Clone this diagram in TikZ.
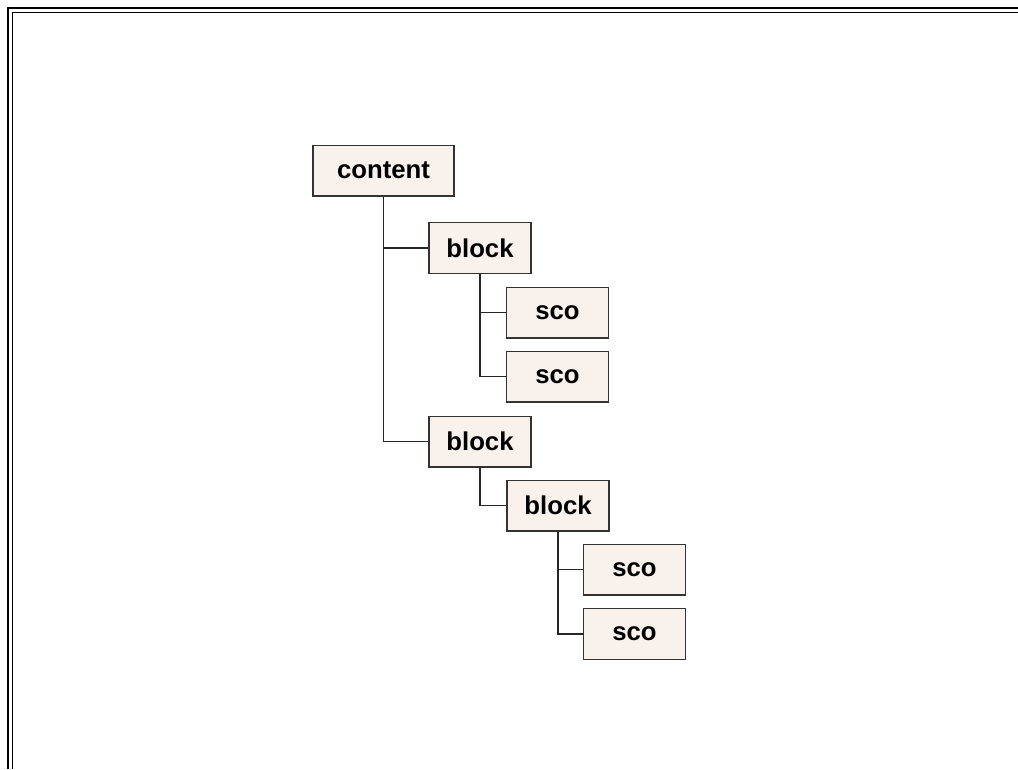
\documentclass[tikz,border=0pt]{standalone}
\usepackage{fontspec}
\setmainfont{Liberation Sans}
\usepackage{tikz}
\usepackage{xcolor}
\usetikzlibrary{positioning}

\definecolor{boxfill}{HTML}{F8F1EC}
\definecolor{boxline}{HTML}{333333}

\begin{document}
\begin{tikzpicture}[x=0.75pt,y=-0.75pt,
		item/.style={draw=boxline,fill=boxfill,line width=1pt,inner sep=0pt,
			minimum width=76.5pt,minimum height=38pt,
			font=\fontsize{19.3}{22}\selectfont\bfseries},
		link/.style={draw=black!85,line width=0.9pt}]
				%\draw[help lines] (0,0) grid (1018,769);
				\useasboundingbox (0,0) rectangle (1018,769);
				\draw[line width=2.2pt] (8,769) -- (8,8) -- (1018,8);
				\draw[line width=1.2pt] (12.5,769) -- (12.5,12.5) -- (1018,12.5);
				
				\node[item,minimum width=105.75pt] (content) at (383.5,170.5) {content};
				\node[item] (block1) at (480,248) {block};
				\node[item] (sco1) at (557.5,312.5) {sco};
				\node[item] (sco2) at (557.5,376.5) {sco};
				\node[item] (block2) at (480,441.5) {block};
				\node[item] (block3) at (558,505.5) {block};
				\node[item] (sco3) at (634.5,569.5) {sco};
				\node[item] (sco4) at (634.5,634) {sco};
				\foreach \a/\b in {content/block1,content/block2,block1/sco1,block1/sco2,block2/block3,block3/sco3,block3/sco4}{\draw[link] (\a.south) |- (\b.west);};
			\end{tikzpicture}
\end{document}
